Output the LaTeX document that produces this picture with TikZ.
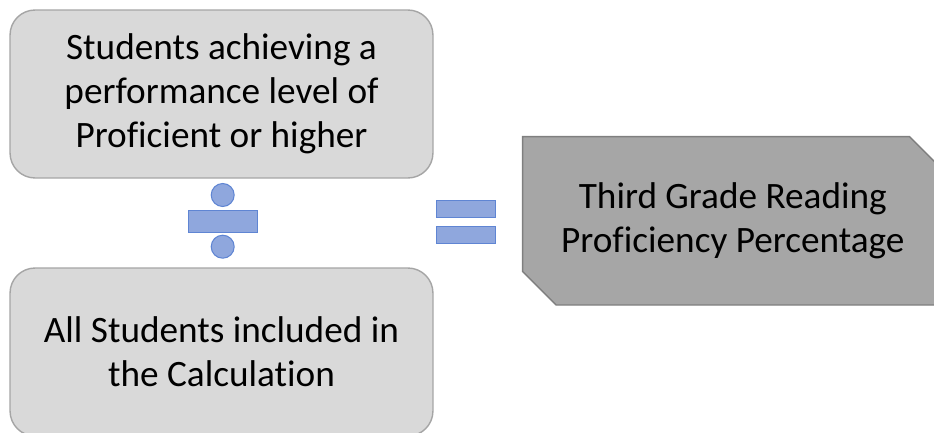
\documentclass[tikz,border=0pt]{standalone}
\usepackage{fontspec}
\setmainfont{Carlito}[Ligatures=NoCommon]
\usetikzlibrary{shapes.misc}
\definecolor{boxgray}{HTML}{D9D9D9}
\definecolor{boxline}{HTML}{A5A5A5}
\definecolor{resgray}{HTML}{A6A6A6}
\definecolor{resline}{HTML}{7F7F7F}
\definecolor{opfill}{HTML}{8FA7DD}
\definecolor{opline}{HTML}{5F85D3}
\begin{document}
\begin{tikzpicture}[x=0.02cm, y=-0.02cm,
  every node/.style={align=center, font=\fontsize{21.2}{25}\selectfont},
  term/.style={rectangle, rounded corners=0.5cm, draw=boxline, fill=boxgray, line width=0.8pt, minimum width=8.46cm, minimum height=3.36cm},
  result/.style={chamfered rectangle, chamfered rectangle corners={north east, south west}, chamfered rectangle xsep=0.56cm, draw=resline, fill=resgray, line width=0.8pt, minimum width=8.41cm, minimum height=3.37cm},
  dot/.style={circle, draw=opline, fill=opfill, line width=0.6pt, minimum size=0.46cm, inner sep=0pt},
  bar/.style={rectangle, draw=opline, fill=opfill, line width=0.6pt, inner sep=0pt}]
  \useasboundingbox (0,0) rectangle (934,433);
  \node[term] (num) at (221.5,94) {Students achieving a\\performance level of\\Proficient or higher};
  \node[term] (den) at (221.5,352) {All Students included in\\the Calculation};
  \node[result] (pct) at (732.8,220.8) {Third Grade Reading\\Proficiency Percentage};
  % division sign
  \node[bar, minimum width=1.39cm, minimum height=0.44cm] (divbar) at (223,221.7) {};
  \node[dot] (divtop) at (222.7,195) {};
  \node[dot] (divbot) at (222.7,246.7) {};
  % equals sign
  \node[bar, minimum width=1.17cm, minimum height=0.34cm] (eqtop) at (465.8,209.2) {};
  \node[bar, minimum width=1.17cm, minimum height=0.34cm] (eqbot) at (465.8,234.7) {};
\end{tikzpicture}
\end{document}
